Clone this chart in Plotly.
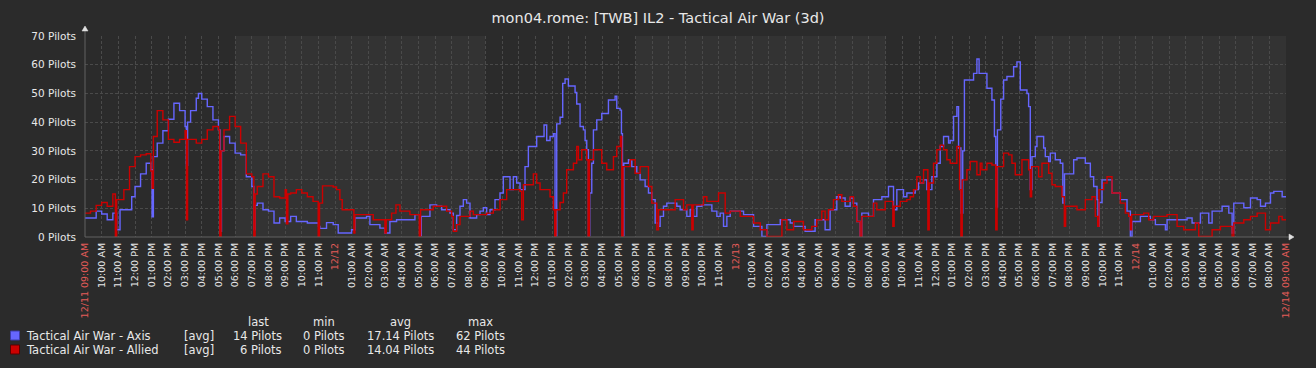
import plotly.graph_objects as go
import pandas as pd

# ---------------- data ----------------
start_time = pd.Timestamp("2016-12-11 09:00")
span_hours = 72

axis_hours = [
    0.00, 0.33, 0.67, 1.00, 1.33, 1.67, 1.90, 2.10, 2.67, 2.80, 3.00, 3.33, 3.67, 3.95, 4.02, 4.10,
    4.33, 4.67, 5.00, 5.33, 5.67, 6.00, 6.08, 6.15, 6.33, 6.67, 6.80, 7.00, 7.33, 7.67, 8.00, 8.10,
    8.18, 8.33, 8.67, 9.00, 9.33, 9.67, 10.00, 10.12, 10.20, 10.33, 10.67, 11.00, 11.33, 11.67, 12.00,
    12.33, 12.67, 13.00, 13.33, 13.67, 14.00, 14.08, 14.48, 14.88, 15.18, 15.88, 15.98, 16.18, 16.58,
    16.88, 17.08, 17.48, 17.68, 17.98, 18.28, 18.68, 19.28, 19.78, 20.08, 20.16, 20.68, 20.98, 21.08,
    21.38, 21.68, 21.88, 22.08, 22.28, 22.48, 22.68, 22.88, 23.08, 23.38, 23.48, 23.68, 23.88, 24.08,
    24.28, 24.58, 24.88, 25.08, 25.28, 25.48, 25.68, 25.88, 26.08, 26.38, 26.58, 26.88, 27.08, 27.38,
    27.52, 27.68, 27.88, 28.08, 28.18, 28.28, 28.48, 28.64, 28.78, 28.98, 29.28, 29.38, 29.48, 29.68,
    29.88, 29.98, 30.08, 30.18, 30.26, 30.38, 30.48, 30.68, 30.98, 31.18, 31.38, 31.68, 31.78, 31.88,
    32.08, 32.16, 32.22, 32.30, 32.58, 32.78, 33.08, 33.28, 33.58, 33.78, 33.98, 34.18, 34.38, 34.48,
    34.68, 34.88, 35.28, 35.48, 35.68, 35.98, 36.08, 36.28, 36.48, 36.68, 36.98, 37.28, 37.58, 37.88,
    38.08, 38.28, 38.48, 38.68, 39.28, 39.48, 39.88, 40.08, 40.58, 40.88, 41.68, 42.28, 42.48, 43.17,
    43.77, 44.37, 44.67, 45.07, 45.27, 45.57, 45.87, 46.07, 46.27, 46.47, 46.57, 46.97, 47.27, 47.77,
    48.17, 48.47, 48.67, 49.07, 49.27, 49.77, 49.97, 50.27, 50.47, 50.77, 51.07, 51.27, 51.47, 51.77,
    51.87, 52.07, 52.27, 52.37, 52.51, 52.62, 52.72, 53.27, 53.47, 53.60, 54.07, 54.37, 54.52, 54.60,
    54.70, 54.90, 55.07, 55.27, 55.67, 55.87, 56.07, 56.47, 56.57, 56.67, 56.77, 56.97, 57.07, 57.27,
    57.47, 57.57, 57.77, 57.87, 58.17, 58.47, 58.62, 58.72, 59.27, 59.47, 59.97, 60.27, 60.47, 60.67,
    60.73, 60.80, 60.97, 61.57, 62.07, 62.47, 62.67, 62.77, 63.27, 63.87, 64.17, 64.77, 64.87, 66.07,
    66.37, 66.87, 67.37, 67.57, 68.17, 68.57, 68.77, 68.87, 69.47, 69.87, 70.27, 70.47, 70.77, 71.07,
    71.27, 71.77, 72.00,
]
axis_pilots = [
    6.6, 6.6, 9, 8, 6, 8.3, 2.5, 9.5, 9.5, 14, 17.6, 22, 25.7, 23.4, 7, 28,
    32.7, 37, 41, 46.6, 44, 38.5, 25, 40, 44, 48.3, 50, 48, 45.4, 40.8, 37.3, 2,
    30, 35, 32.7, 29.2, 28.6, 21, 17.6, 2.5, 11, 11.8, 9.5, 9, 4.9, 6.6, 5.4,
    7.2, 5.4, 5.4, 4.9, 4.9, 3.7, 3, 5, 4.3, 1.4, 1.4, 2.5, 6.6, 6.6,
    7.2, 4.3, 4.3, 3.1, 1.4, 5.4, 6, 6, 7.8, 0.5, 7.2, 11.2, 11.2, 10.7,
    9.5, 9.5, 8.3, 2.5, 7.5, 10.7, 13, 11.8, 6.6, 6.6, 7.8, 9, 10.2, 7.8,
    9.5, 13, 15.3, 21, 21, 16.5, 21, 18.8, 16.5, 24.5, 31.5, 31.5, 35, 35,
    39, 33.6, 35, 36, 0.5, 39.4, 41.7, 53.5, 55, 52.6, 52.6, 50.3, 46.3, 38.5,
    37.3, 33.6, 30.4, 0.5, 15.3, 25.7, 37.3, 40.8, 43, 43, 47.7, 47.7, 49, 44.8,
    44.2, 36, 0.5, 25.7, 26.9, 24.5, 22.2, 19.9, 17.6, 15.3, 13, 4.9, 3.7, 7.2,
    10.7, 11.8, 11.8, 10.7, 9.5, 9.5, 7.2, 9.5, 7.2, 10.7, 11.2, 11.2, 9, 7.2,
    8.3, 3.7, 7.2, 9, 9, 7.8, 7.8, 3.7, 0.2, 4.3, 6, 4.9, 3.7, 2,
    6, 2.5, 9.5, 14, 13.6, 10.7, 13.6, 11.8, 5.4, 0.2, 8.3, 7.2, 13, 14,
    17.6, 9.5, 16.5, 14, 15.3, 16.5, 18.8, 19.9, 16.5, 21, 25.7, 31.5, 35, 32.7,
    33.6, 42, 45.4, 31, 8.3, 30, 54.7, 57, 62, 57, 51.8, 47.7, 35, 10.4,
    37.3, 48, 54.7, 55.9, 59.3, 61, 51.2, 50, 45.4, 16.5, 28, 31.5, 35, 35,
    31, 28, 26.3, 29.2, 26.9, 25.7, 11.8, 22, 26.9, 27.5, 25.7, 21, 17.6, 13,
    3.7, 12, 19.9, 15.3, 13, 9, 0.2, 5.4, 7.2, 6, 4.3, 2.5, 6, 6.6,
    4.9, 8.3, 4.9, 9, 10.7, 8.3, 1.4, 11.8, 10.2, 13.6, 13, 10.7, 11.8, 15.3,
    15.9, 14, 14,
]

allied_hours = [
    0.00, 0.33, 0.67, 1.00, 1.33, 1.67, 1.82, 1.90, 2.33, 2.67, 3.00, 3.33, 3.67, 3.95, 4.02, 4.10,
    4.33, 4.67, 5.00, 5.33, 5.67, 6.00, 6.08, 6.15, 6.67, 7.00, 7.33, 7.67, 8.00, 8.08, 8.16, 8.33,
    8.67, 9.00, 9.33, 9.67, 10.00, 10.12, 10.20, 10.33, 10.67, 11.00, 11.33, 11.67, 12.00, 12.08,
    12.16, 12.33, 12.67, 13.00, 13.33, 13.67, 13.98, 14.06, 14.24, 14.88, 15.08, 15.28, 15.42, 16.08,
    16.12, 16.18, 17.28, 17.98, 18.06, 18.38, 18.64, 18.88, 19.48, 20.04, 20.12, 20.88, 21.68, 21.98,
    22.08, 22.28, 22.48, 23.08, 23.28, 24.08, 24.48, 24.88, 25.28, 26.08, 26.18, 26.28, 26.88, 27.08,
    27.28, 27.88, 28.08, 28.16, 28.24, 28.48, 28.68, 28.88, 29.28, 29.48, 29.58, 29.78, 30.08, 30.16,
    30.24, 30.48, 30.98, 31.28, 31.68, 31.88, 32.10, 32.18, 32.26, 32.68, 32.98, 33.28, 33.78, 33.98,
    34.28, 34.38, 35.38, 35.88, 36.08, 36.38, 36.46, 37.08, 37.28, 37.98, 38.38, 38.68, 39.28, 40.08,
    40.48, 40.88, 41.78, 42.08, 42.48, 43.07, 43.57, 43.87, 44.17, 44.37, 44.57, 44.87, 45.17, 45.37,
    45.87, 46.07, 46.27, 46.47, 46.57, 47.27, 47.47, 47.97, 48.43, 48.51, 48.87, 49.27, 49.47, 49.67,
    49.87, 50.07, 50.27, 50.53, 50.61, 50.87, 51.07, 51.27, 51.47, 51.67, 51.87, 52.27, 52.43, 52.51,
    52.59, 52.87, 53.07, 53.47, 53.67, 53.77, 54.07, 54.37, 54.60, 54.68, 55.07, 55.37, 55.57, 55.77,
    56.17, 56.57, 56.67, 56.75, 57.17, 57.37, 57.67, 57.77, 57.97, 58.17, 58.57, 58.71, 58.79, 59.47,
    59.97, 60.37, 60.57, 60.71, 60.79, 61.07, 61.27, 61.57, 62.07, 62.37, 62.57, 62.67, 62.75, 63.47,
    63.77, 64.07, 64.87, 65.47, 65.87, 66.57, 66.77, 67.57, 68.07, 68.77, 68.87, 69.47, 69.87, 70.27,
    70.77, 71.07, 71.57, 71.77, 72.00,
]
allied_pilots = [
    8.3, 9, 11, 12, 10.7, 15, 0.2, 13, 16.5, 24.5, 28, 28.6, 29, 23, 17, 35,
    44, 40.8, 34, 33, 34, 37, 6, 34, 32.7, 34, 37.3, 38.5, 37.3, 0.2, 30, 37.3,
    42, 38.5, 32.7, 22, 21, 0.2, 15, 17.6, 22, 21, 14, 13.6, 16.5, 4.6,
    15, 15.3, 16.5, 15.3, 14, 12.4, 0.2, 11.8, 17.8, 17.4, 16.5, 13, 9.5, 9.5,
    1.4, 7.8, 6, 1.4, 6, 8.3, 11.2, 9, 7.8, 0.2, 9.5, 10.7, 9, 7.2,
    2, 4.3, 7.2, 9, 7.8, 8.3, 9.5, 13, 16.5, 15.9, 6, 18.2, 22, 18.8,
    16.5, 14, 9.5, 0.2, 9.5, 12, 15.3, 23.4, 25.7, 31.5, 26.9, 30.4, 26.9, 0.2,
    26.9, 30.4, 25.7, 23.4, 28, 31.5, 35, 0.2, 24.5, 26.9, 22.2, 24.5, 17.6, 11.8,
    2.5, 9.5, 13, 9.5, 11.2, 2.5, 11.2, 14, 12.4, 15.3, 8.3, 9, 7.2, 4.9,
    2.5, 0.2, 6, 2.5, 5.4, 2.5, 3.7, 6, 9, 6, 9.5, 13, 14.7, 12.4,
    14, 10.7, 5.4, 0.2, 7.2, 11.8, 9.5, 12.4, 3.7, 10.7, 12.4, 13, 14, 16.5,
    21, 18.8, 23.4, 2.5, 18.8, 25.7, 30.4, 32, 30.4, 26.9, 25.7, 31.5, 16.5, 0.2,
    19.9, 23.4, 26.3, 21.7, 25.7, 23.4, 25.7, 25.1, 2.5, 24.5, 29.2, 28.6, 25.7, 21.7,
    26.9, 23.4, 14, 24.5, 21, 25.7, 25.7, 22.2, 18.2, 17.6, 14, 3.7, 10.7, 9.5,
    13, 14, 7.2, 3.7, 16.5, 18.8, 21, 15.3, 11.8, 8.3, 7.2, 2.5, 7.8, 8.3,
    6, 7.2, 7.8, 3.7, 2.5, 4.9, 0.2, 2.5, 3.7, 0.2, 4.9, 6, 7.2, 8.3,
    2.5, 4.9, 7.2, 6, 6,
]

series_names = ["Tactical Air War - Axis", "Tactical Air War - Allied"]
series_colors = ["#6666ff", "#cc0000"]
series_borders = ["#3c3ca8", "#5a0000"]
stat_headers = ["last", "min", "avg", "max"]
axis_stats = ["14 Pilots", "0 Pilots", "17.14 Pilots", "62 Pilots"]
allied_stats = ["6 Pilots", "0 Pilots", "14.04 Pilots", "44 Pilots"]
y_ticks = [0, 10, 20, 30, 40, 50, 60, 70]
y_unit = "Pilots"
work_start_hour, work_end_hour = 9, 18
title_text = "mon04.rome: [TWB] IL2 - Tactical Air War (3d)"

# ---------------- layout geometry ----------------
W, H = 1316, 368
ML, MR, MT, MB = 85, 30, 36, 131
PW = W - ML - MR
PH = H - MT - MB
BG = "#2b2b2b"
NONWORK = "#333333"
GRID = "#4a4a4a"
AXISC = "#626262"
TXT = "#e8e8e8"
RED_TXT = "#e45c59"
FONT = "DejaVu Sans"


def px(x):
    return (x - ML) / PW


def py(y):
    return (H - MB - y) / PH


# x tick labels
tick_hours = list(range(0, span_hours + 1))
tick_text = []
for h in tick_hours:
    t = start_time + pd.Timedelta(hours=h)
    if h == 0 or h == span_hours:
        tick_text.append(f'<span style="color:{RED_TXT}">{t.strftime("%m/%d %I:%M %p")}</span>')
    elif t.hour == 0:
        tick_text.append(f'<span style="color:{RED_TXT}">{t.strftime("%m/%d")}</span>')
    else:
        tick_text.append(t.strftime("%I:%M %p"))

fig = go.Figure()
fig.add_trace(go.Scatter(x=axis_hours, y=axis_pilots, mode="lines", line_shape="hv",
                         line=dict(color=series_colors[0], width=1.4), name=series_names[0],
                         hoverinfo="skip"))
fig.add_trace(go.Scatter(x=allied_hours, y=allied_pilots, mode="lines", line_shape="hv",
                         line=dict(color=series_colors[1], width=1.4), name=series_names[1],
                         hoverinfo="skip"))

shapes = []
# non-working time bands
for d in range(span_hours // 24):
    day0 = start_time.normalize() + pd.Timedelta(days=d)
    band_start = (day0 + pd.Timedelta(hours=work_end_hour) - start_time) / pd.Timedelta(hours=1)
    band_end = (day0 + pd.Timedelta(hours=24 + work_start_hour) - start_time) / pd.Timedelta(hours=1)
    shapes.append(dict(type="rect", xref="x", yref="paper", x0=max(band_start, 0),
                       x1=min(band_end, span_hours), y0=0, y1=1, fillcolor=NONWORK,
                       line=dict(width=0), layer="below"))

# axis lines and arrows
shapes.append(dict(type="line", xref="paper", yref="paper", x0=0, x1=0, y0=0, y1=py(31),
                   line=dict(color=AXISC, width=1)))
shapes.append(dict(type="line", xref="paper", yref="paper", x0=0, x1=px(1290), y0=0, y1=0,
                   line=dict(color=AXISC, width=1)))
up = f"M {px(82)} {py(31)} L {px(88)} {py(31)} L {px(85)} {py(26)} Z"
right = f"M {px(1289)} {py(234)} L {px(1289)} {py(240)} L {px(1294)} {py(237)} Z"
for p in (up, right):
    shapes.append(dict(type="path", xref="paper", yref="paper", path=p,
                       fillcolor="#e0e0e0", line=dict(color="#e0e0e0", width=0.5)))

# legend squares
rows_y = [335.5, 349.5]
for i, yc in enumerate(rows_y):
    shapes.append(dict(type="rect", xref="paper", yref="paper", x0=px(10.5), x1=px(19.5),
                       y0=py(yc - 4.5), y1=py(yc + 4.5), fillcolor=series_colors[i],
                       line=dict(color=series_borders[i], width=1)))

annotations = []
lfont = dict(family=FONT, size=11.5, color=TXT)
header_x = [258, 324, 400, 480]
for hx, ht in zip(header_x, stat_headers):
    annotations.append(dict(xref="paper", yref="paper", x=px(hx), y=py(321.5), text=ht,
                            showarrow=False, xanchor="center", yanchor="middle", font=lfont))
col_right = [283, 346, 435, 506]
for i, (yc, stats) in enumerate(zip(rows_y, [axis_stats, allied_stats])):
    annotations.append(dict(xref="paper", yref="paper", x=px(24), y=py(yc), text=series_names[i],
                            showarrow=False, xanchor="left", yanchor="middle", font=lfont))
    annotations.append(dict(xref="paper", yref="paper", x=px(182), y=py(yc), text="[avg]",
                            showarrow=False, xanchor="left", yanchor="middle", font=lfont))
    for cx, s in zip(col_right, stats):
        annotations.append(dict(xref="paper", yref="paper", x=px(cx + 1), y=py(yc), text=s,
                                showarrow=False, xanchor="right", yanchor="middle", font=lfont))

fig.update_layout(
    width=W, height=H,
    margin=dict(l=ML, r=MR, t=MT, b=MB, pad=0),
    paper_bgcolor=BG, plot_bgcolor=BG,
    showlegend=False,
    title=dict(text=title_text, x=0.5, xref="container", xanchor="center",
               y=1 - 18 / H, yref="container", yanchor="middle",
               font=dict(family=FONT, size=14.5, color=TXT)),
    font=dict(family=FONT, color=TXT),
    xaxis=dict(range=[0, span_hours], tickmode="array", tickvals=tick_hours, ticktext=tick_text,
               tickangle=-90, ticks="", ticklabelstandoff=3, showline=False, zeroline=False,
               showgrid=True, gridcolor=GRID, griddash="3px,2px", gridwidth=1,
               tickfont=dict(family=FONT, size=9.5, color=TXT), fixedrange=True),
    yaxis=dict(range=[0, 70], tickmode="array", tickvals=y_ticks,
               ticktext=[f"{v} {y_unit}" for v in y_ticks], ticks="", ticklabelstandoff=8,
               showline=False, zeroline=False, showgrid=True, gridcolor=GRID,
               griddash="3px,2px", gridwidth=1,
               tickfont=dict(family=FONT, size=10.5, color=TXT), fixedrange=True),
    shapes=shapes,
    annotations=annotations,
)

fig.write_html("out.html", config={"displayModeBar": False})
